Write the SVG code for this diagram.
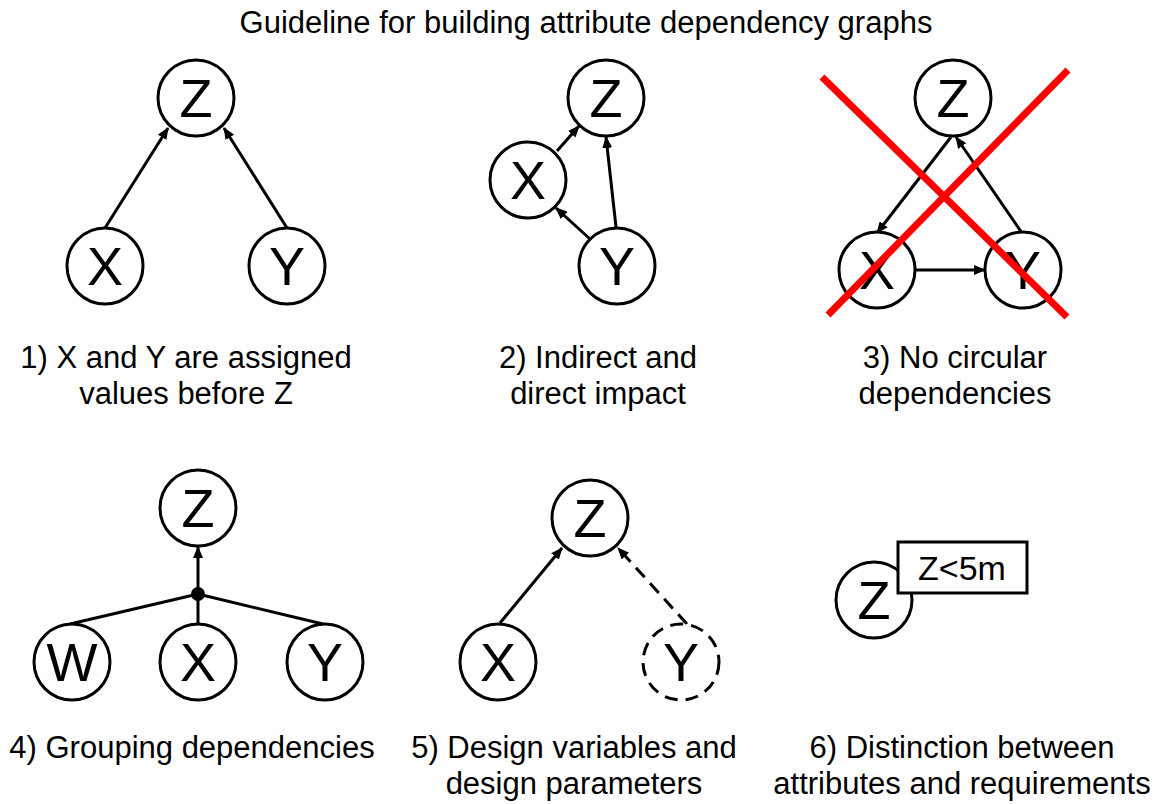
<svg xmlns="http://www.w3.org/2000/svg" width="1165" height="804" viewBox="0 0 1165 804">
<style>
  .node circle { fill: #fff; stroke: #000; stroke-width: 3; }
  .node text { font-family: "Liberation Sans", Arial, sans-serif; font-size: 54px; text-anchor: middle; fill: #000; }
  .lbl { font-family: "Liberation Sans", Arial, sans-serif; font-size: 31px; text-anchor: middle; fill: #000; }
  .edge { stroke: #000; stroke-width: 3; fill: none; }
  .arr { marker-end: url(#ah); }
  .dash { stroke-dasharray: 13 8; }
  .cross { stroke: #ff0000; stroke-width: 7; fill: none; }
</style>
<defs>
  <marker id="ah" markerUnits="userSpaceOnUse" markerWidth="12" markerHeight="10" refX="11" refY="5" orient="auto">
    <path d="M0,0 L12,5 L0,10 z" fill="#000"/>
  </marker>
</defs>
<rect width="1165" height="804" fill="#fff"/>

<text class="lbl" x="586" y="33">Guideline for building attribute dependency graphs</text>

<g id="connectors">
  <!-- panel 1 -->
  <line class="edge arr" x1="105" y1="228" x2="168" y2="128"/>
  <line class="edge arr" x1="287" y1="228" x2="224" y2="128"/>
  <!-- panel 2 -->
  <line class="edge arr" x1="557" y1="151" x2="579" y2="126"/>
  <line class="edge arr" x1="616" y1="227" x2="606" y2="137"/>
  <line class="edge arr" x1="590" y1="239" x2="556" y2="208"/>
  <!-- panel 3 -->
  <line class="edge arr" x1="951" y1="137" x2="877" y2="233"/>
  <line class="edge arr" x1="1022" y1="233" x2="956" y2="137"/>
  <line class="edge arr" x1="915" y1="270" x2="985" y2="270"/>
  <!-- panel 4 -->
  <line class="edge" x1="70" y1="624" x2="198" y2="594"/>
  <line class="edge" x1="323" y1="624" x2="198" y2="594"/>
  <line class="edge" x1="198" y1="624" x2="198" y2="594"/>
  <line class="edge arr" x1="198" y1="594" x2="198" y2="547"/>
  <circle cx="198" cy="594" r="7" fill="#000"/>
  <!-- panel 5 -->
  <line class="edge arr" x1="500" y1="623" x2="562" y2="548"/>
  <line class="edge arr dash" x1="687" y1="624" x2="618" y2="548"/>
</g>

<g id="p1-z" class="node"><circle cx="196" cy="98" r="38"/><text x="196" y="117">Z</text></g>
<g id="p1-x" class="node"><circle cx="105" cy="266" r="38"/><text x="105" y="285">X</text></g>
<g id="p1-y" class="node"><circle cx="287" cy="266" r="38"/><text x="287" y="285">Y</text></g>

<g id="p2-z" class="node"><circle cx="606" cy="98" r="38"/><text x="606" y="117">Z</text></g>
<g id="p2-x" class="node"><circle cx="528" cy="180" r="38"/><text x="528" y="199">X</text></g>
<g id="p2-y" class="node"><circle cx="617" cy="266" r="38"/><text x="617" y="285">Y</text></g>

<g id="p3-z" class="node"><circle cx="953" cy="98" r="38"/><text x="953" y="117">Z</text></g>
<g id="p3-x" class="node"><circle cx="877" cy="270" r="38"/><text x="877" y="289">X</text></g>
<g id="p3-y" class="node"><circle cx="1023" cy="270" r="38"/><text x="1023" y="289">Y</text></g>

<g id="p3-cross">
  <line class="cross" x1="822" y1="77" x2="1067" y2="317"/>
  <line class="cross" x1="1068" y1="70" x2="828" y2="315"/>
</g>

<g id="p4-z" class="node"><circle cx="198" cy="508" r="38"/><text x="198" y="527">Z</text></g>
<g id="p4-w" class="node"><circle cx="72" cy="662" r="38"/><text x="72" y="681">W</text></g>
<g id="p4-x" class="node"><circle cx="198" cy="662" r="38"/><text x="198" y="681">X</text></g>
<g id="p4-y" class="node"><circle cx="325" cy="662" r="38"/><text x="325" y="681">Y</text></g>

<g id="p5-z" class="node"><circle cx="590" cy="518" r="38"/><text x="590" y="537">Z</text></g>
<g id="p5-x" class="node"><circle cx="498" cy="662" r="38"/><text x="498" y="681">X</text></g>
<g id="p5-y" class="node"><circle cx="681" cy="662" r="38" class="dash"/><text x="681" y="681">Y</text></g>

<g id="p6-z" class="node"><circle cx="874" cy="600" r="38"/><text x="874" y="619">Z</text></g>
<g id="p6-req">
  <rect x="898" y="542" width="129" height="51" fill="#fff" stroke="#000" stroke-width="3"/>
  <text class="lbl" x="962" y="580" style="font-size:34px">Z&lt;5m</text>
</g>

<g id="labels">
  <text class="lbl" x="186" y="368">1) X and Y are assigned</text>
  <text class="lbl" x="186" y="404">values before Z</text>
  <text class="lbl" x="598" y="368">2) Indirect and</text>
  <text class="lbl" x="598" y="404">direct impact</text>
  <text class="lbl" x="955" y="368">3) No circular</text>
  <text class="lbl" x="955" y="404">dependencies</text>
  <text class="lbl" x="192" y="758">4) Grouping dependencies</text>
  <text class="lbl" x="574" y="758">5) Design variables and</text>
  <text class="lbl" x="574" y="794">design parameters</text>
  <text class="lbl" x="962" y="758">6) Distinction between</text>
  <text class="lbl" x="962" y="794">attributes and requirements</text>
</g>
</svg>
